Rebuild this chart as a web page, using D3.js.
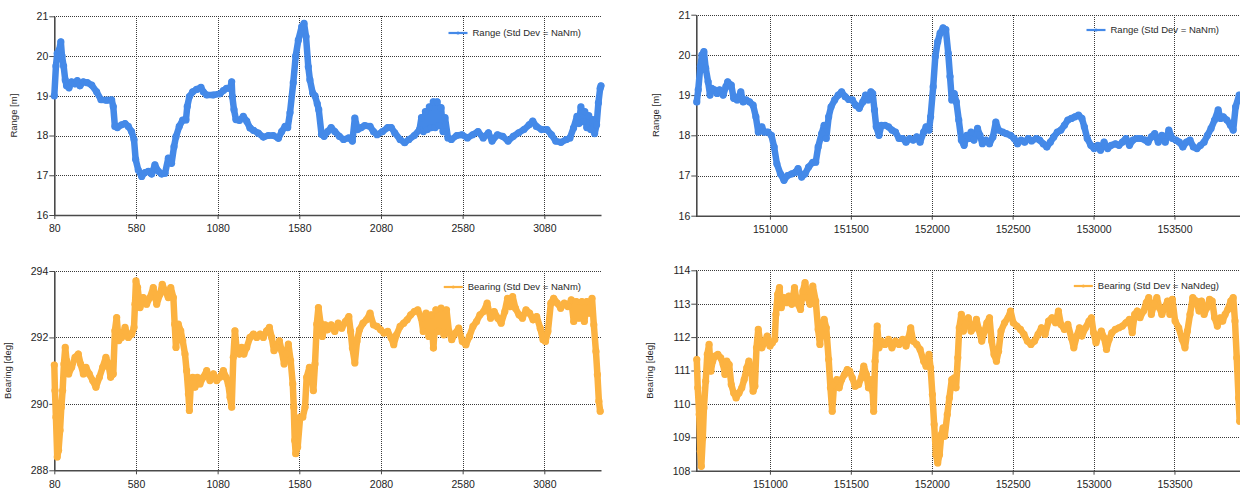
<!DOCTYPE html>
<html>
<head>
<meta charset="utf-8">
<script src="https://cdn.jsdelivr.net/npm/d3@7"></script>
<style>
  body { margin: 0; background: #fff; }
  svg { display: block; font-family: "Liberation Sans", Arial, sans-serif; }
</style>
</head>
<body>
<svg id="chart" width="1240" height="491"></svg>
<script>
// ---- Run A (samples 80 .. 3427) ----
const rangeTimeA = [80,90,98,110,120,127,137,147,155,170,186,207,221,237,258,282,309,339,366,400,431,441,451,466,492,513,533,553,568,578,594,615,635,656,676,696,717,737,758,778,798,813,825,845,866,886,894,907,927,951,978,992,1013,1053,1094,1115,1135,1156,1166,1170,1180,1192,1213,1237,1258,1278,1299,1329,1360,1390,1421,1452,1472,1493,1509,1523,1543,1558,1574,1595,1609,1621,1635,1645,1662,1676,1690,1699,1716,1732,1753,1775,1797,1825,1851,1883,1905,1920,1937,1959,1980,2013,2034,2056,2089,2121,2143,2164,2197,2225,2251,2284,2316,2328,2340,2352,2364,2376,2388,2400,2412,2424,2436,2448,2460,2472,2490,2511,2544,2576,2609,2641,2674,2706,2738,2760,2793,2825,2858,2890,2923,2955,2987,3009,3031,3063,3096,3124,3150,3182,3215,3237,3259,3280,3292,3304,3316,3328,3340,3352,3364,3376,3388,3400,3411,3422,3427];
const rangeValuesA = [19.0,19.75,20.07,20.15,20.36,20.0,19.75,19.4,19.25,19.2,19.35,19.3,19.38,19.25,19.35,19.33,19.27,19.1,18.9,18.89,18.9,18.73,18.23,18.2,18.27,18.3,18.23,18.1,17.9,17.4,17.13,16.97,17.07,17.1,17.03,17.26,17.1,17.03,17.05,17.43,17.3,17.72,17.97,18.23,18.39,18.39,18.73,18.98,19.1,19.16,19.21,19.1,19.02,19.02,19.05,19.13,19.19,19.19,19.35,18.98,18.65,18.4,18.38,18.48,18.36,18.19,18.13,18.06,17.96,18.0,18.0,17.93,18.1,18.23,18.2,18.57,19.33,20.0,20.4,20.74,20.82,20.49,19.73,19.4,19.07,19.0,18.8,18.65,18.03,17.98,18.1,18.2,18.1,17.98,17.9,17.94,17.86,18.44,18.15,18.2,18.25,18.23,18.1,18.02,18.1,18.2,18.2,18.07,17.9,17.82,17.9,18.0,18.15,18.45,18.1,18.6,18.15,18.72,18.2,18.85,18.2,18.85,18.25,18.7,18.1,18.45,17.94,17.9,18.0,18.02,17.94,18.02,18.1,17.94,18.07,17.86,18.02,17.98,17.86,17.98,18.07,18.15,18.27,18.36,18.23,18.15,18.15,18.02,17.86,17.83,17.9,17.94,18.19,18.48,18.3,18.72,18.35,18.6,18.2,18.5,18.15,18.4,18.05,18.27,18.82,19.19,19.25];

const bearingTimeA = [80,84,90,98,106,115,123,131,139,147,155,168,186,207,227,241,258,274,294,315,335,356,376,396,411,425,441,451,462,474,492,513,533,554,568,574,580,590,605,625,645,666,686,707,727,741,758,778,793,809,817,825,839,854,866,880,890,901,907,915,927,941,956,972,992,1013,1033,1054,1074,1094,1115,1131,1145,1156,1166,1176,1186,1197,1213,1227,1241,1258,1278,1299,1319,1340,1360,1380,1397,1411,1425,1442,1458,1472,1487,1499,1513,1527,1540,1546,1552,1558,1570,1585,1601,1615,1625,1642,1656,1666,1676,1687,1697,1710,1721,1738,1753,1775,1797,1818,1840,1862,1883,1894,1905,1920,1933,1948,1970,1991,2013,2034,2056,2078,2099,2121,2143,2158,2175,2197,2219,2240,2262,2284,2305,2327,2339,2356,2373,2388,2401,2416,2431,2448,2465,2481,2496,2513,2535,2556,2578,2600,2621,2643,2665,2686,2708,2730,2751,2773,2795,2816,2838,2855,2871,2886,2903,2925,2946,2968,2990,3011,3033,3055,3072,3087,3102,3120,3137,3159,3180,3202,3224,3245,3260,3276,3293,3310,3325,3340,3357,3372,3383,3396,3405,3414,3422];
const bearingValuesA = [291.17,290.4,289.6,288.4,288.6,289.2,289.9,290.4,291.2,291.7,291.3,290.9,291.1,291.4,291.5,291.2,290.9,291.1,290.9,290.7,290.5,290.8,291.1,291.4,291.2,290.8,290.9,292.2,292.6,291.9,292.0,292.3,292.0,292.1,292.3,293.0,293.7,293.5,292.9,293.2,293.0,293.2,293.5,293.0,293.3,293.6,293.4,293.2,293.5,293.2,292.4,291.7,292.4,292.2,291.9,291.5,291.0,290.3,289.8,290.5,290.8,290.5,290.8,290.6,290.8,291.0,290.7,290.9,290.7,290.8,291.0,290.8,290.6,290.2,289.9,291.4,292.2,291.6,291.5,291.7,291.5,291.7,292.0,292.1,292.0,292.1,292.0,292.2,292.3,292.0,291.6,291.7,291.9,291.6,291.2,291.5,291.8,291.3,290.6,289.9,288.9,288.5,288.7,289.6,289.6,289.9,290.8,291.1,290.9,290.4,291.2,292.4,292.9,292.43,292.03,292.38,292.23,292.38,292.18,292.43,292.28,292.48,292.63,292.18,291.68,291.23,291.88,292.23,292.43,292.53,292.73,292.38,292.33,292.23,292.13,292.18,291.98,291.78,292.08,292.33,292.43,292.53,292.68,292.78,292.83,292.58,292.18,292.73,292.03,292.68,291.68,292.83,292.18,292.88,292.08,292.83,292.18,291.93,292.13,292.28,291.88,291.78,292.03,292.33,292.48,292.68,292.78,293.03,292.58,292.78,292.58,292.43,292.78,293.18,292.93,293.23,292.88,292.68,292.58,292.83,292.73,292.53,292.63,292.28,291.93,291.88,292.18,293.03,293.18,293.03,292.88,293.03,292.93,293.13,292.48,293.08,292.58,293.08,292.48,293.08,292.73,293.18,292.38,291.58,290.88,290.08,289.78];

// ---- Run B (samples 150548 .. 153906) ----
const rangeTimeB = [150548,150557,150570,150580,150592,150603,150618,150630,150640,150657,150674,150689,150711,150728,150739,150761,150776,150798,150820,150835,150852,150874,150896,150913,150928,150950,150965,150987,151009,151026,151043,151065,151087,151109,151135,151157,151174,151196,151217,151239,151265,151283,151298,151320,151335,151348,151363,151378,151400,151422,151443,151465,151487,151509,151530,151552,151574,151591,151607,151624,151635,151646,151657,151674,151689,151711,151733,151754,151776,151798,151820,151841,151863,151885,151907,151928,151950,151965,151983,151993,152009,152022,152037,152052,152070,152087,152102,152113,152124,152139,152152,152167,152183,152200,152217,152233,152243,152261,152283,152298,152313,152335,152357,152378,152396,152413,152439,152461,152487,152509,152530,152552,152574,152596,152617,152646,152667,152689,152711,152733,152754,152776,152798,152820,152841,152863,152885,152907,152928,152943,152961,152983,153004,153026,153043,153065,153087,153109,153135,153157,153178,153200,153222,153243,153265,153291,153320,153337,153357,153378,153400,153422,153443,153465,153487,153509,153530,153552,153574,153596,153617,153639,153661,153683,153704,153726,153748,153770,153785,153802,153824,153846,153863,153878,153900];
const rangeValuesB = [18.83,19.13,19.71,20.0,20.08,19.67,19.33,19.0,19.17,19.13,19.04,19.13,19.0,19.21,19.33,19.25,18.92,18.88,19.08,18.83,18.88,18.83,18.75,18.46,18.08,18.21,18.08,18.08,18.0,17.71,17.29,17.04,16.88,17.0,17.04,17.08,17.17,16.96,17.04,17.21,17.33,17.33,17.71,18.04,18.25,17.92,18.46,18.71,18.88,19.0,19.08,18.96,18.89,18.88,18.75,18.67,18.83,19.0,18.88,19.08,19.04,18.63,18.21,18.0,18.25,18.25,18.21,18.13,18.08,17.92,17.92,17.83,17.92,17.88,17.96,17.83,18.08,18.21,18.13,18.46,19.21,19.96,20.33,20.54,20.67,20.63,20.04,19.46,18.88,19.04,18.83,18.38,17.88,17.75,18.0,17.92,18.08,17.88,18.17,18.0,17.79,17.88,17.79,17.96,18.33,18.13,18.08,18.04,18.0,17.92,17.79,17.88,17.83,17.92,17.86,17.92,17.88,17.79,17.71,17.83,17.96,18.08,18.13,18.25,18.38,18.42,18.46,18.5,18.42,18.21,17.92,17.75,17.67,17.75,17.63,17.83,17.67,17.75,17.79,17.75,17.83,17.92,17.75,17.88,17.92,17.92,17.88,17.83,17.96,18.04,17.83,18.0,17.83,18.13,17.92,17.88,17.83,17.71,17.83,17.88,17.71,17.67,17.75,17.83,18.0,18.17,18.38,18.63,18.42,18.46,18.38,18.25,18.13,18.71,19.0];

const bearingTimeB = [150548,150554,150563,150570,150576,150585,150592,150603,150613,150624,150635,150646,150661,150678,150696,150711,150722,150733,150748,150761,150776,150791,150809,150826,150841,150857,150870,150885,150896,150907,150917,150928,150939,150950,150965,150983,151000,151015,151030,151037,151048,151059,151070,151087,151102,151117,151135,151152,151167,151189,151204,151217,151233,151248,151265,151283,151298,151309,151320,151335,151348,151363,151374,151385,151396,151413,151428,151443,151461,151478,151493,151509,151526,151548,151565,151580,151596,151609,151624,151635,151641,151650,151657,151663,151674,151689,151711,151733,151754,151776,151798,151820,151841,151857,151870,151885,151907,151928,151950,151965,151983,151993,152004,152015,152026,152037,152048,152059,152070,152080,152096,152109,152124,152139,152150,152161,152170,152183,152196,152211,152226,152243,152261,152276,152291,152309,152326,152341,152357,152370,152385,152400,152413,152428,152450,152472,152487,152504,152526,152548,152570,152591,152613,152635,152657,152678,152700,152722,152743,152765,152783,152798,152820,152841,152863,152878,152896,152913,152928,152950,152972,152987,153000,153015,153030,153048,153065,153080,153096,153113,153135,153157,153178,153200,153222,153239,153254,153270,153287,153309,153326,153341,153357,153374,153391,153407,153422,153439,153457,153472,153487,153504,153526,153548,153565,153580,153596,153613,153635,153652,153667,153683,153700,153717,153733,153748,153765,153783,153798,153813,153830,153848,153863,153874,153885,153896,153903];
const bearingValuesB = [111.33,110.48,109.68,108.58,108.13,108.98,109.88,110.68,111.48,111.78,110.98,111.28,111.43,111.48,111.38,111.18,110.88,111.28,111.18,110.58,110.33,110.18,110.33,110.48,110.73,111.08,111.28,110.98,110.38,110.53,111.68,112.23,111.88,111.68,111.83,112.03,111.73,111.83,111.93,112.68,113.28,113.48,112.88,113.18,113.03,113.23,112.98,113.48,113.03,112.83,113.38,113.63,113.18,112.98,113.53,113.08,112.23,111.78,112.28,112.53,112.28,111.33,110.48,109.78,110.58,110.73,110.48,110.73,110.88,111.03,110.98,110.78,110.53,110.58,110.78,111.13,110.88,110.48,110.73,110.38,109.78,111.28,111.88,112.33,111.68,111.88,111.78,111.93,111.68,111.88,111.78,111.93,111.73,111.98,112.28,111.88,111.78,111.63,111.28,111.13,111.48,111.08,110.28,109.38,108.48,108.23,108.48,109.08,109.28,109.03,109.68,110.18,110.73,110.78,110.48,111.38,112.28,112.68,112.18,112.43,112.58,112.18,112.28,112.53,112.23,111.88,112.18,112.43,112.58,111.88,111.48,111.28,111.58,112.18,112.43,112.58,112.78,112.43,112.33,112.23,112.08,111.88,111.78,111.88,112.08,112.28,112.08,112.48,112.58,112.43,112.78,112.38,112.23,112.38,111.98,111.68,112.03,112.28,112.03,112.28,112.48,112.58,112.13,111.83,112.03,112.18,111.98,111.63,111.93,112.13,112.23,112.28,112.33,112.43,112.53,112.13,112.68,112.78,112.58,112.78,113.03,113.18,112.68,112.98,113.18,112.88,112.68,112.88,113.08,112.68,113.13,112.48,112.28,111.93,111.68,112.18,112.68,113.18,113.08,112.78,113.08,112.68,112.88,113.13,113.08,112.58,112.33,112.58,112.48,112.68,112.83,113.08,113.18,112.48,111.38,110.18,109.48];

// ---- Axis tick values ----
const timeTicksA = [80, 580, 1080, 1580, 2080, 2580, 3080];
const timeTicksB = [151000, 151500, 152000, 152500, 153000, 153500];
const rangeTicks = [16, 17, 18, 19, 20, 21];
const bearingTicksA = [288, 290, 292, 294];
const bearingTicksB = [108, 109, 110, 111, 112, 113, 114];

const BLUE = "#4489e8";
const ORANGE = "#fcb240";

const panels = [
  { t: rangeTimeA, v: rangeValuesA, xDomain: [80, 3427], yDomain: [16, 21],
    xTicks: timeTicksA, yTicks: rangeTicks,
    box: { left: 54.3, right: 601, top: 16.3, bottom: 215 },
    color: BLUE, legend: "Range (Std Dev = NaNm)", legendRight: 581, legendY: 33,
    title: "Range [m]", titleX: 14 },
  { t: rangeTimeB, v: rangeValuesB, xDomain: [150545, 153905], yDomain: [16, 21],
    xTicks: timeTicksB, yTicks: rangeTicks,
    box: { left: 696.3, right: 1240, top: 14.7, bottom: 215.7 },
    color: BLUE, legend: "Range (Std Dev = NaNm)", legendRight: 1219, legendY: 30,
    title: "Range [m]", titleX: 656 },
  { t: bearingTimeA, v: bearingValuesA, xDomain: [80, 3427], yDomain: [288, 294],
    xTicks: timeTicksA, yTicks: bearingTicksA,
    box: { left: 54.3, right: 601, top: 271, bottom: 470.3 },
    color: ORANGE, legend: "Bearing (Std Dev = NaNm)", legendRight: 581, legendY: 287,
    title: "Bearing [deg]", titleX: 7.5 },
  { t: bearingTimeB, v: bearingValuesB, xDomain: [150545, 153905], yDomain: [108, 114],
    xTicks: timeTicksB, yTicks: bearingTicksB,
    box: { left: 696.3, right: 1240, top: 270.3, bottom: 470.7 },
    color: ORANGE, legend: "Bearing (Std Dev = NaNdeg)", legendRight: 1219, legendY: 286,
    title: "Bearing [deg]", titleX: 650 }
];

const svg = d3.select("#chart");

panels.forEach(p => {
  const x = d3.scaleLinear().domain(p.xDomain).range([p.box.left, p.box.right]);
  const y = d3.scaleLinear().domain(p.yDomain).range([p.box.bottom, p.box.top]);
  const g = svg.append("g");

  // dotted grid
  const grid = g.append("g").attr("stroke", "#3a3a3a").attr("stroke-width", 1)
    .attr("stroke-dasharray", "1,1").attr("shape-rendering", "crispEdges");
  grid.selectAll("line.h").data(p.yTicks).join("line").attr("class", "h")
    .attr("x1", p.box.left).attr("x2", p.box.right)
    .attr("y1", d => Math.round(y(d)) + 0.5).attr("y2", d => Math.round(y(d)) + 0.5);
  grid.selectAll("line.v").data(p.xTicks).join("line").attr("class", "v")
    .attr("y1", p.box.top).attr("y2", p.box.bottom)
    .attr("x1", d => Math.round(x(d)) + 0.5).attr("x2", d => Math.round(x(d)) + 0.5);

  // axes
  const yAxis = g.append("g").attr("transform", `translate(${p.box.left},0)`)
    .call(d3.axisLeft(y).tickValues(p.yTicks).tickFormat(d3.format("d"))
      .tickSize(5).tickSizeOuter(0).tickPadding(1));
  const xAxis = g.append("g").attr("transform", `translate(0,${p.box.bottom})`)
    .call(d3.axisBottom(x).tickValues(p.xTicks).tickFormat(d3.format("d"))
      .tickSize(4).tickSizeOuter(0).tickPadding(6));
  [yAxis, xAxis].forEach(a => {
    a.select(".domain").attr("stroke", "#4a4a4a").attr("stroke-width", 1.6);
    a.selectAll(".tick line").attr("stroke", "#4a4a4a");
    a.selectAll("text").attr("fill", "#1e1e1e").style("font-size", "10.5px");
  });

  // axis title
  const cy = (p.box.top + p.box.bottom) / 2;
  g.append("text").attr("transform", `translate(${p.titleX},${cy}) rotate(-90)`)
    .attr("text-anchor", "middle").attr("dy", "0.35em")
    .style("font-size", "9.5px").attr("fill", "#2a2a2a").text(p.title);

  // series: thick line with round markers at every sample
  const pts = p.t.map((t, i) => [t, p.v[i]]);
  g.append("path").datum(pts)
    .attr("fill", "none").attr("stroke", p.color).attr("stroke-width", 6.5)
    .attr("stroke-linejoin", "round").attr("stroke-linecap", "round")
    .attr("d", d3.line().x(d => x(d[0])).y(d => y(d[1])));
  g.append("g").selectAll("circle").data(pts).join("circle")
    .attr("cx", d => x(d[0])).attr("cy", d => y(d[1])).attr("r", 3.6)
    .attr("fill", p.color);

  // legend
  const lt = g.append("text").attr("x", p.legendRight).attr("y", p.legendY)
    .attr("text-anchor", "end").attr("dy", "0.35em")
    .style("font-size", "9.5px").attr("fill", "#2a2a2a").text(p.legend);
  const start = p.legendRight - lt.node().getComputedTextLength();
  g.append("line").attr("x1", start - 24).attr("x2", start - 5)
    .attr("y1", p.legendY).attr("y2", p.legendY)
    .attr("stroke", p.color).attr("stroke-width", 2.2);
  g.append("circle").attr("cx", start - 14.5).attr("cy", p.legendY).attr("r", 1.6)
    .attr("fill", p.color);
});
</script>
</body>
</html>
